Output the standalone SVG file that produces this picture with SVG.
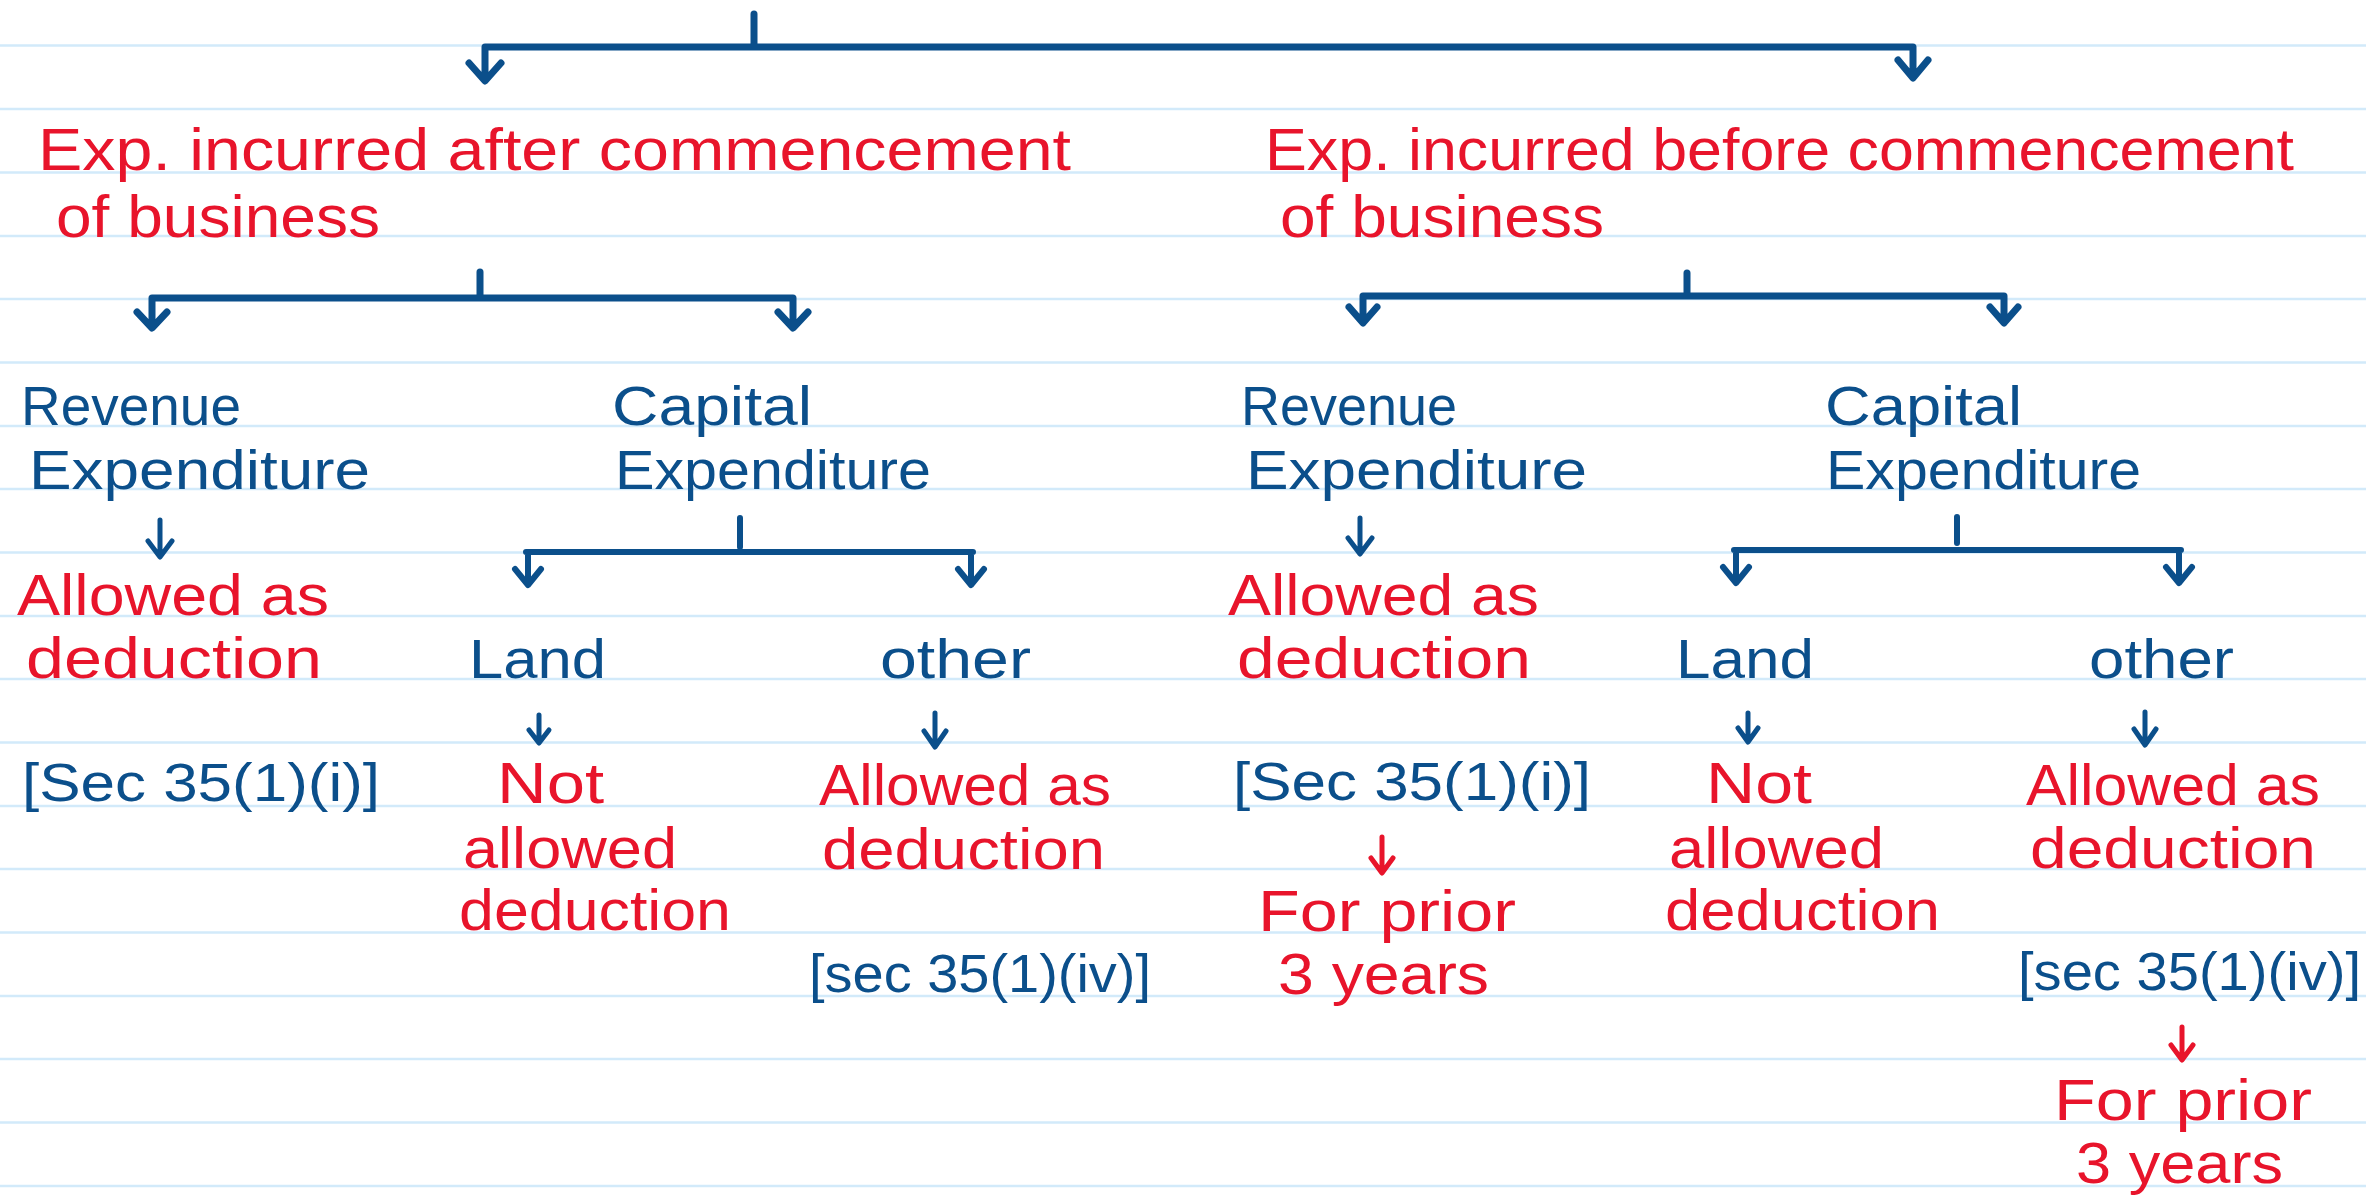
<svg xmlns="http://www.w3.org/2000/svg" width="2366" height="1204" viewBox="0 0 2366 1204">
<style>
.paper{stroke:#d2eafa;stroke-width:2.5}
.r{fill:#e8142b;font-family:"Liberation Sans",Arial,sans-serif;font-size:58px}
.rt{fill:#e8142b;font-family:"Liberation Sans",Arial,sans-serif;font-size:60px}
.b{fill:#0b4f8b;font-family:"Liberation Sans",Arial,sans-serif;font-size:56px}
.bs{fill:#0b4f8b;font-family:"Liberation Sans",Arial,sans-serif;font-size:54px}
.c{fill:none;stroke:#0b4f8b;stroke-linecap:round;stroke-linejoin:round}
.big{stroke-width:7}
.mid{stroke-width:6}
.sm{stroke-width:5}
.red{stroke:#e8142b}
</style>
<rect width="2366" height="1204" fill="#ffffff"/>
<g id="paper">
<path class="paper" d="M0,45.5H2366M0,109H2366M0,172.5H2366M0,236H2366M0,299H2366M0,362.5H2366M0,426H2366M0,489H2366M0,552.5H2366M0,616H2366M0,679H2366M0,742.5H2366M0,806H2366M0,869H2366M0,932.5H2366M0,996H2366M0,1059H2366M0,1122.5H2366M0,1186H2366"/>
</g>
<g id="connectors">
<path class="c big" d="M754,14V44M485,47H1913M485,47V80M469,63L485,81L501,63M1913,47V76M1898,60L1913,78L1928,60"/>
<path class="c big" d="M480,272V296M152,298H793M152,298V327M137,312L152,328L167,312M793,298V327M778,312L793,328L808,312"/>
<path class="c big" d="M1687,273V293M1363,296H2004M1363,296V321M1349,307L1363,323L1377,307M2004,296V321M1990,307L2004,323L2018,307"/>
<path class="c sm" d="M160,520V556M148,541L160,557L172,541"/>
<path class="c sm" d="M1360,518V553M1348,538L1360,554L1372,538"/>
<path class="c mid" d="M740,518V547M526,552H973M528,552V583M515,569L528,585L541,569M971,552V583M958,569L971,585L984,569"/>
<path class="c mid" d="M1957,517V543M1734,550H2181M1736,550V581M1723,567L1736,583L1749,567M2179,550V581M2166,567L2179,583L2192,567"/>
<path class="c sm" d="M539,715V742M529,730L539,743L549,730"/>
<path class="c sm" d="M935,713V746M924,731L935,747L946,731"/>
<path class="c sm" d="M1748,713V741M1738,728L1748,742L1758,728"/>
<path class="c sm" d="M2145,712V744M2134,729L2145,745L2156,729"/>
<path class="c sm red" d="M1382,837V872M1371,858L1382,873L1393,858"/>
<path class="c sm red" d="M2182,1027V1059M2171,1045L2182,1060L2193,1045"/>
</g>
<g id="after">
<text class="rt" x="38" y="170" textLength="1033" lengthAdjust="spacingAndGlyphs">Exp. incurred after commencement</text>
<text class="rt" x="56" y="237" textLength="324" lengthAdjust="spacingAndGlyphs">of business</text>
</g>
<g id="before">
<text class="rt" x="1265" y="170" textLength="1029" lengthAdjust="spacingAndGlyphs">Exp. incurred before commencement</text>
<text class="rt" x="1280" y="237" textLength="324" lengthAdjust="spacingAndGlyphs">of business</text>
</g>
<g id="rev-after">
<text class="b" x="21" y="425" textLength="220" lengthAdjust="spacingAndGlyphs">Revenue</text>
<text class="b" x="29" y="489" textLength="341" lengthAdjust="spacingAndGlyphs">Expenditure</text>
</g>
<g id="cap-after">
<text class="b" x="612" y="425" textLength="200" lengthAdjust="spacingAndGlyphs">Capital</text>
<text class="b" x="615" y="489" textLength="316" lengthAdjust="spacingAndGlyphs">Expenditure</text>
</g>
<g id="rev-after-result">
<text class="r" x="17" y="615" textLength="312" lengthAdjust="spacingAndGlyphs">Allowed as</text>
<text class="r" x="26" y="678" textLength="296" lengthAdjust="spacingAndGlyphs">deduction</text>
<text class="bs" x="22" y="801" textLength="358" lengthAdjust="spacingAndGlyphs">[Sec 35(1)(i)]</text>
</g>
<g id="land-after">
<text class="b" x="469" y="678" textLength="137" lengthAdjust="spacingAndGlyphs">Land</text>
</g>
<g id="other-after">
<text class="b" x="880" y="678" textLength="151" lengthAdjust="spacingAndGlyphs">other</text>
</g>
<g id="land-after-result">
<text class="r" x="497" y="803" textLength="107" lengthAdjust="spacingAndGlyphs">Not</text>
<text class="r" x="463" y="868" textLength="214" lengthAdjust="spacingAndGlyphs">allowed</text>
<text class="r" x="459" y="930" textLength="272" lengthAdjust="spacingAndGlyphs">deduction</text>
</g>
<g id="other-after-result">
<text class="r" x="819" y="805" textLength="292" lengthAdjust="spacingAndGlyphs">Allowed as</text>
<text class="r" x="822" y="869" textLength="283" lengthAdjust="spacingAndGlyphs">deduction</text>
<text class="bs" x="809" y="992" textLength="342" lengthAdjust="spacingAndGlyphs">[sec 35(1)(iv)]</text>
</g>
<g id="rev-before">
<text class="b" x="1241" y="425" textLength="216" lengthAdjust="spacingAndGlyphs">Revenue</text>
<text class="b" x="1246" y="489" textLength="341" lengthAdjust="spacingAndGlyphs">Expenditure</text>
</g>
<g id="cap-before">
<text class="b" x="1825" y="425" textLength="197" lengthAdjust="spacingAndGlyphs">Capital</text>
<text class="b" x="1826" y="489" textLength="315" lengthAdjust="spacingAndGlyphs">Expenditure</text>
</g>
<g id="rev-before-result">
<text class="r" x="1228" y="615" textLength="311" lengthAdjust="spacingAndGlyphs">Allowed as</text>
<text class="r" x="1237" y="678" textLength="294" lengthAdjust="spacingAndGlyphs">deduction</text>
<text class="bs" x="1233" y="800" textLength="358" lengthAdjust="spacingAndGlyphs">[Sec 35(1)(i)]</text>
<text class="r" x="1258" y="931" textLength="258" lengthAdjust="spacingAndGlyphs">For prior</text>
<text class="r" x="1278" y="994" textLength="211" lengthAdjust="spacingAndGlyphs">3 years</text>
</g>
<g id="land-before">
<text class="b" x="1676" y="678" textLength="138" lengthAdjust="spacingAndGlyphs">Land</text>
</g>
<g id="other-before">
<text class="b" x="2089" y="678" textLength="145" lengthAdjust="spacingAndGlyphs">other</text>
</g>
<g id="land-before-result">
<text class="r" x="1706" y="803" textLength="106" lengthAdjust="spacingAndGlyphs">Not</text>
<text class="r" x="1669" y="868" textLength="215" lengthAdjust="spacingAndGlyphs">allowed</text>
<text class="r" x="1665" y="930" textLength="275" lengthAdjust="spacingAndGlyphs">deduction</text>
</g>
<g id="other-before-result">
<text class="r" x="2026" y="805" textLength="294" lengthAdjust="spacingAndGlyphs">Allowed as</text>
<text class="r" x="2030" y="868" textLength="286" lengthAdjust="spacingAndGlyphs">deduction</text>
<text class="bs" x="2018" y="990" textLength="343" lengthAdjust="spacingAndGlyphs">[sec 35(1)(iv)]</text>
<text class="r" x="2054" y="1120" textLength="258" lengthAdjust="spacingAndGlyphs">For prior</text>
<text class="r" x="2076" y="1183" textLength="207" lengthAdjust="spacingAndGlyphs">3 years</text>
</g>
</svg>
